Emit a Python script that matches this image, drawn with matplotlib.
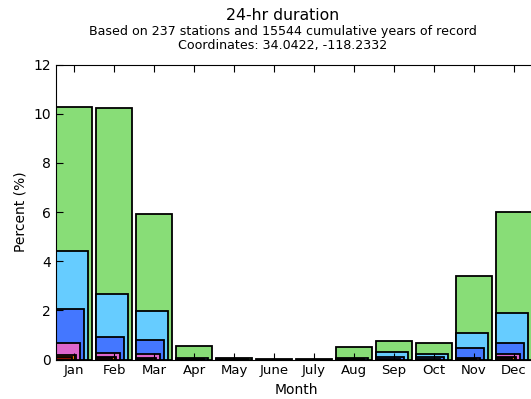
import numpy as np
import matplotlib
matplotlib.use("Agg")
import matplotlib.pyplot as plt

# Monthly share of annual-maximum 24-hr events, one series per threshold
months = ['Jan', 'Feb', 'Mar', 'Apr', 'May', 'June', 'July', 'Aug', 'Sep', 'Oct', 'Nov', 'Dec']
pct_s1 = [10.28, 10.22, 5.92, 0.55, 0.07, 0.02, 0.02, 0.50, 0.77, 0.68, 3.40, 6.00]
pct_s2 = [4.40, 2.68, 1.97, 0.05, 0.01, 0.00, 0.00, 0.05, 0.30, 0.22, 1.08, 1.90]
pct_s3 = [2.06, 0.92, 0.79, 0.03, 0.00, 0.00, 0.00, 0.03, 0.10, 0.10, 0.47, 0.68]
pct_s4 = [0.68, 0.27, 0.23, 0.00, 0.00, 0.00, 0.00, 0.00, 0.02, 0.02, 0.05, 0.23]
pct_s5 = [0.18, 0.10, 0.05, 0.00, 0.00, 0.00, 0.00, 0.00, 0.00, 0.00, 0.02, 0.10]
pct_s6 = [0.10, 0.05, 0.02, 0.00, 0.00, 0.00, 0.00, 0.00, 0.00, 0.00, 0.00, 0.05]

series = [pct_s1, pct_s2, pct_s3, pct_s4, pct_s5, pct_s6]
colors = ['#88dd77', '#66ccff', '#4477ff', '#dd66cc', '#ee7700', '#881100']
widths = [0.9, 0.8, 0.7, 0.6, 0.5, 0.4]

fig = plt.figure(figsize=(5.31, 3.99), dpi=100)
ax = fig.add_axes([56 / 531, 39.5 / 399, 480 / 531, 295 / 399])

x = np.arange(len(months))
for vals, c, w in zip(series, colors, widths):
    ax.bar(x, vals, width=w, align='edge', color=c, edgecolor='black', linewidth=1.3)

ax.set_xlim(0, 12)
ax.set_ylim(0, 12)
ax.set_xticks(x + 0.45)
ax.set_xticklabels(months, fontsize=9.5)
ax.set_yticks(np.arange(0, 13, 2))
ax.tick_params(axis='y', labelsize=10)
ax.tick_params(direction='in', top=True, right=False, length=5, width=0.8)
ax.set_xlabel('Month', fontsize=10)
ax.set_ylabel('Percent (%)', fontsize=10)

fig.text(283 / 531, 1 - 16 / 399, '24-hr duration', ha='center', va='center', fontsize=11.3)
fig.text(283 / 531, 1 - 31 / 399, 'Based on 237 stations and 15544 cumulative years of record',
         ha='center', va='center', fontsize=9.1)
fig.text(283 / 531, 1 - 45 / 399, 'Coordinates: 34.0422, -118.2332',
         ha='center', va='center', fontsize=9.1)

fig.savefig('out.png', dpi=100)
